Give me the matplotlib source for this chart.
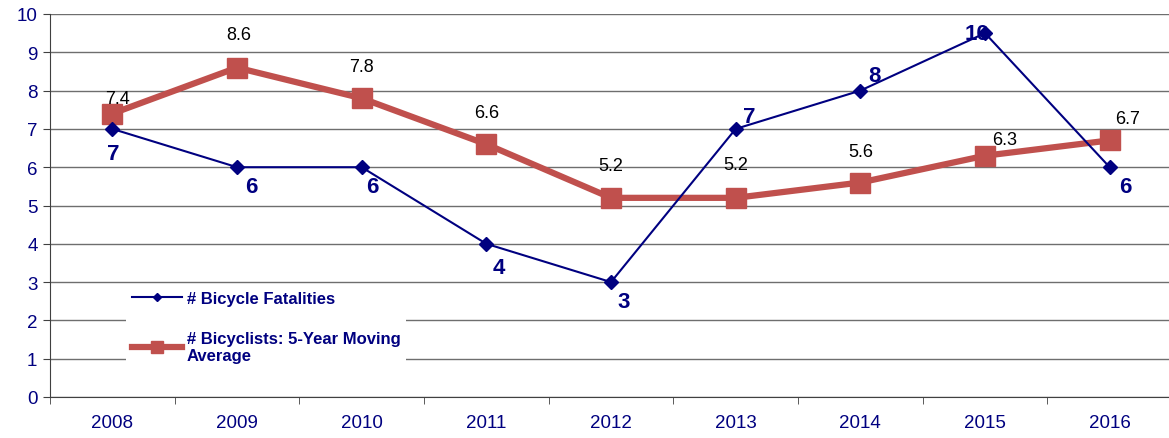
import matplotlib.pyplot as plt
import matplotlib.ticker as mticker

plt.rcParams['font.family'] = ['Liberation Sans', 'DejaVu Sans']

years = ['2008', '2009', '2010', '2011', '2012', '2013', '2014', '2015', '2016']
fatalities = [7, 6, 6, 4, 3, 7, 8, 9.5, 6]
fatality_labels = ['7', '6', '6', '4', '3', '7', '8', '10', '6']
moving_avg = [7.4, 8.6, 7.8, 6.6, 5.2, 5.2, 5.6, 6.3, 6.7]

navy = '#000080'
red = '#C0504D'

fig = plt.figure(figsize=(11.69, 4.39), dpi=100)
ax = fig.add_axes([50 / 1169, 41 / 439, 1122 / 1169, 383 / 439])

x = list(range(len(years)))
ax.plot(x, moving_avg, color=red, lw=4.5, marker='s', ms=14, zorder=3,
        label='# Bicyclists: 5-Year Moving\nAverage')
ax.plot(x, fatalities, color=navy, lw=1.5, marker='D', ms=7, zorder=4,
        label='# Bicycle Fatalities')

# label offsets in points
blue_off = [(1, -18), (10, -14), (8, -14), (9, -17), (9, -14), (10, 9), (10, 11), (-6, 0), (11, -14)]
red_off = [(4, 11), (1, 24), (0, 23), (0, 23), (0, 23), (0, 24), (0, 22), (14, 12), (13, 16)]

for i in x:
    ax.annotate(fatality_labels[i], (i, fatalities[i]), xytext=blue_off[i],
                textcoords='offset points', ha='center', va='center',
                fontsize=16, fontweight='bold', color=navy, zorder=5)
    ax.annotate(f'{moving_avg[i]:.1f}', (i, moving_avg[i]), xytext=red_off[i],
                textcoords='offset points', ha='center', va='center',
                fontsize=13, color='black', zorder=5)

ax.set_xlim(-0.5, 8.5)
ax.set_ylim(0, 10)
ax.yaxis.set_major_locator(mticker.MultipleLocator(1))
ax.set_xticks(x)
ax.set_xticklabels(years)
ax.set_xticks([i + 0.5 for i in range(-1, 9)], minor=True)
ax.tick_params(axis='x', which='major', length=0, pad=12, labelsize=13.5, labelcolor=navy)
ax.tick_params(axis='x', which='minor', length=5, direction='out', color='#404040')
ax.tick_params(axis='y', length=5, direction='out', labelsize=13.5, labelcolor=navy,
               color='#404040', pad=4)

ax.grid(axis='y', color='#6e6e6e', lw=1, zorder=0)
ax.set_axisbelow(True)
for s in ['top', 'right']:
    ax.spines[s].set_visible(False)
for s in ['left', 'bottom']:
    ax.spines[s].set_color('#404040')

handles, labels = ax.get_legend_handles_labels()
leg = ax.legend(handles[::-1], labels[::-1], loc='upper left',
                bbox_to_anchor=(0.0675, 0.292), frameon=True, fancybox=False,
                edgecolor='none', facecolor='white', framealpha=1,
                handlelength=3.0, handletextpad=0.3, labelspacing=1.5,
                borderpad=0.35, borderaxespad=0, markerscale=0.65,
                prop={'weight': 'bold', 'size': 12})
for t in leg.get_texts():
    t.set_color(navy)
leg.set_zorder(6)

fig.savefig('out.png', dpi=100)
